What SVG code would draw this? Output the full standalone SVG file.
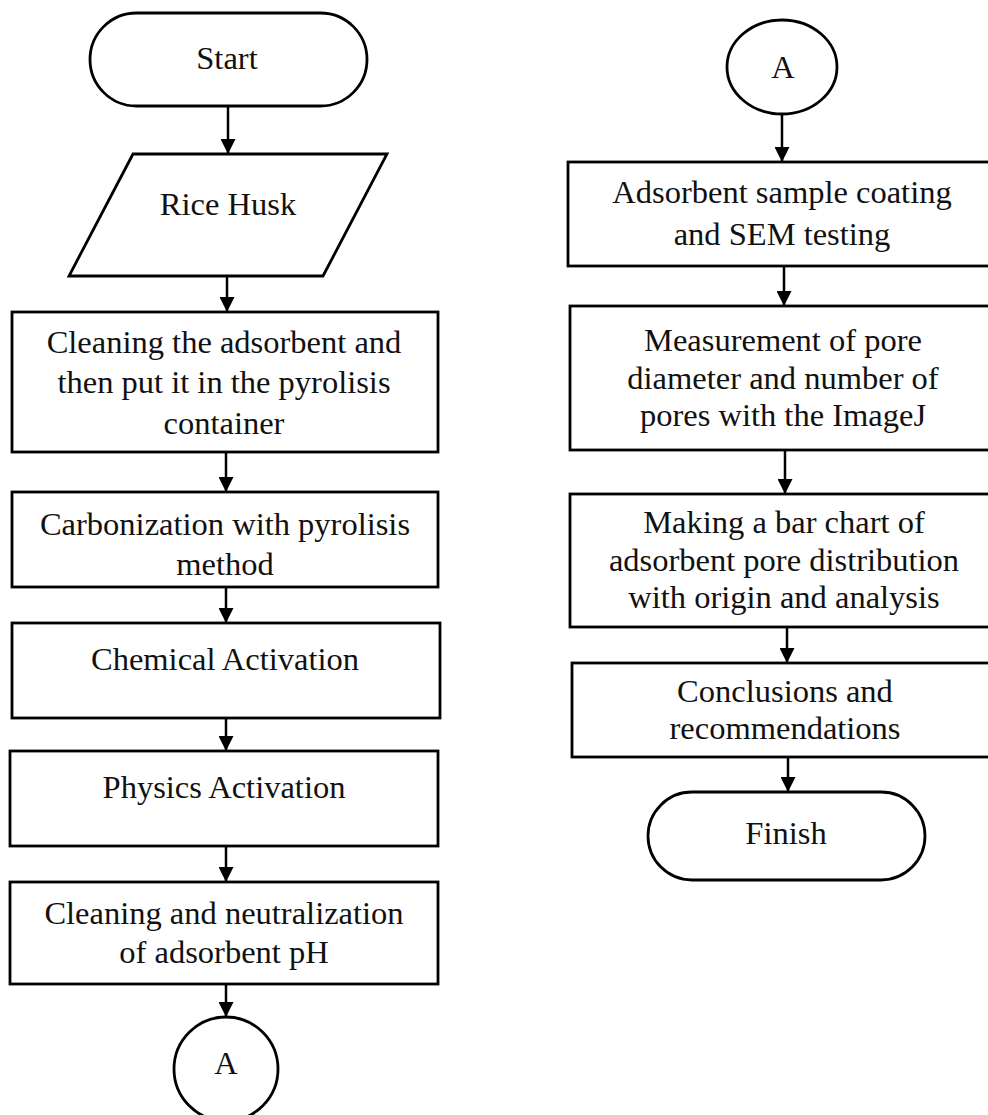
<svg xmlns="http://www.w3.org/2000/svg" width="988" height="1115" viewBox="0 0 988 1115">
<style>
.s{fill:#fff;stroke:#000;stroke-width:2.8}
.t{font-family:"Liberation Serif","Times New Roman",serif;font-size:32.5px;fill:#111;text-anchor:middle}
.c{stroke:#000;stroke-width:2.5;fill:none;marker-end:url(#ah)}
</style>
<defs>
<marker id="ah" markerUnits="userSpaceOnUse" markerWidth="15" markerHeight="15" viewBox="0 0 15 15" refX="15" refY="7.5" orient="auto">
<path d="M0,0 L15,7.5 L0,15 Z" fill="#000"/>
</marker>
</defs>
<rect width="988" height="1115" fill="#fff"/>
<g id="connectors">
<line class="c" x1="228" y1="106" x2="228" y2="154"/>
<line class="c" x1="227" y1="276" x2="227" y2="312"/>
<line class="c" x1="226" y1="452" x2="226" y2="492"/>
<line class="c" x1="226" y1="587" x2="226" y2="623"/>
<line class="c" x1="226" y1="718" x2="226" y2="751"/>
<line class="c" x1="226" y1="846" x2="226" y2="882"/>
<line class="c" x1="226" y1="984" x2="226" y2="1017"/>
<line class="c" x1="782" y1="115" x2="782" y2="162"/>
<line class="c" x1="784" y1="266" x2="784" y2="306"/>
<line class="c" x1="785" y1="450" x2="785" y2="494"/>
<line class="c" x1="787" y1="627" x2="787" y2="663"/>
<line class="c" x1="788" y1="757" x2="788" y2="792"/>
</g>
<g id="start"><rect class="s" x="90" y="13" width="277" height="93" rx="46.5"/><text class="t" x="227" y="69">Start</text></g>
<g id="rice-husk"><polygon class="s" points="133,154 387,154 323,276 69,276"/><text class="t" x="228" y="215">Rice Husk</text></g>
<g id="cleaning"><rect class="s" x="12" y="312" width="426" height="140"/><text class="t" x="224" y="353">Cleaning the adsorbent and</text><text class="t" x="224" y="393">then put it in the pyrolisis</text><text class="t" x="224" y="434">container</text></g>
<g id="carbonization"><rect class="s" x="12" y="492" width="426" height="95"/><text class="t" x="225" y="535">Carbonization with pyrolisis</text><text class="t" x="225" y="575">method</text></g>
<g id="chemical"><rect class="s" x="12" y="623" width="428" height="95"/><text class="t" x="225" y="670">Chemical Activation</text></g>
<g id="physics"><rect class="s" x="10" y="751" width="428" height="95"/><text class="t" x="224" y="798">Physics Activation</text></g>
<g id="neutralization"><rect class="s" x="10" y="882" width="428" height="102"/><text class="t" x="224" y="924">Cleaning and neutralization</text><text class="t" x="224" y="963">of adsorbent pH</text></g>
<g id="connector-a1"><circle class="s" cx="226" cy="1069" r="52"/><text class="t" x="226" y="1074">A</text></g>
<g id="connector-a2"><ellipse class="s" cx="782" cy="67" rx="55" ry="47"/><text class="t" x="783" y="78">A</text></g>
<g id="sem"><rect class="s" x="568" y="162" width="428" height="104"/><text class="t" x="782" y="203">Adsorbent sample coating</text><text class="t" x="782" y="245">and SEM testing</text></g>
<g id="measurement"><rect class="s" x="570" y="306" width="426" height="144"/><text class="t" x="783" y="351">Measurement of pore</text><text class="t" x="783" y="389">diameter and number of</text><text class="t" x="783" y="426">pores with the ImageJ</text></g>
<g id="barchart"><rect class="s" x="570" y="494" width="426" height="133"/><text class="t" x="784" y="533">Making a bar chart of</text><text class="t" x="784" y="571">adsorbent pore distribution</text><text class="t" x="784" y="608">with origin and analysis</text></g>
<g id="conclusions"><rect class="s" x="572" y="663" width="424" height="94"/><text class="t" x="785" y="702">Conclusions and</text><text class="t" x="785" y="739">recommendations</text></g>
<g id="finish"><rect class="s" x="648" y="792" width="277" height="88" rx="44"/><text class="t" x="786" y="844">Finish</text></g>
</svg>
